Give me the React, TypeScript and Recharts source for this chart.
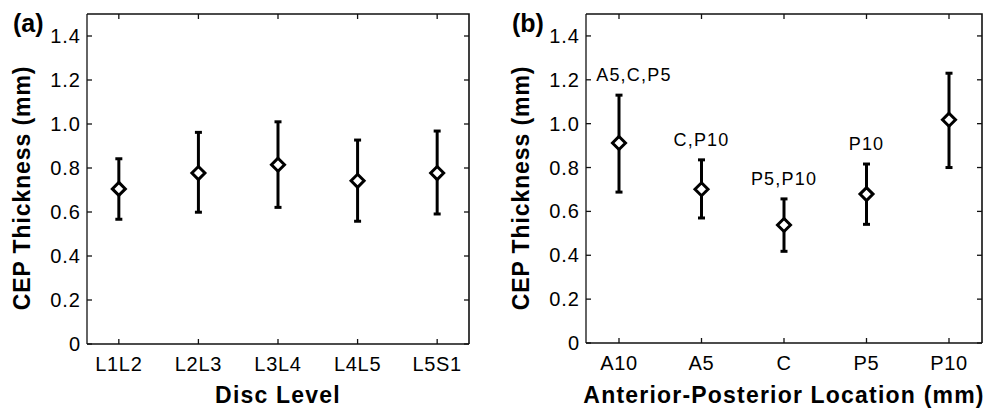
import { ComposedChart, Scatter, XAxis, YAxis, ErrorBar } from "recharts";

// panel (a): CEP thickness by disc level
const discLevels = ["L1L2", "L2L3", "L3L4", "L4L5", "L5S1"];
const discMean = [0.705, 0.777, 0.815, 0.742, 0.777];
const discLower = [0.567, 0.599, 0.621, 0.558, 0.591];
const discUpper = [0.842, 0.962, 1.01, 0.927, 0.968];

// panel (b): CEP thickness by anterior-posterior location
const apLocations = ["A10", "A5", "C", "P5", "P10"];
const apMean = [0.912, 0.701, 0.538, 0.679, 1.018];
const apLower = [0.688, 0.57, 0.418, 0.541, 0.8];
const apUpper = [1.13, 0.835, 0.657, 0.816, 1.23];
const apNotes = ["A5,C,P5", "C,P10", "P5,P10", "P10", ""];

const yTicks = [0, 0.2, 0.4, 0.6, 0.8, 1.0, 1.2, 1.4];
const xTicks = [1, 2, 3, 4, 5];

const FONT = "'Liberation Sans', Arial, Helvetica, sans-serif";
const AXIS = "#111";

type Row = {
  x: number;
  mean: number;
  upper: number;
  err: [number, number];
  note: string;
};

function buildRows(mean: number[], lower: number[], upper: number[], notes?: string[]): Row[] {
  return mean.map((m, i) => ({
    x: i + 1,
    mean: m,
    upper: upper[i],
    err: [m - lower[i], upper[i] - m],
    note: notes ? notes[i] : "",
  }));
}

const discRows = buildRows(discMean, discLower, discUpper);
const apRows = buildRows(apMean, apLower, apUpper, apNotes);

function Diamond(props: any) {
  const { cx, cy } = props;
  if (cx == null || cy == null) return <g />;
  const r = 6.5;
  return (
    <polygon
      points={`${cx},${cy - r} ${cx + r},${cy} ${cx},${cy + r} ${cx - r},${cy}`}
      fill="#fff"
      stroke="#000"
      strokeWidth={3}
      strokeLinejoin="miter"
    />
  );
}

type PanelProps = {
  letter: string;
  labels: string[];
  rows: Row[];
  title: string;
  width: number;
  left: number;
  plotLeft: number;
  plotRight: number;
  plotBottom: number;
};

function Panel({ letter, labels, rows, title, width, left, plotLeft, plotRight, plotBottom }: PanelProps) {
  const height = 409;
  const top = 14;
  const bottomH = height - plotBottom;
  const rightM = width - plotRight;
  const plotH = plotBottom - top;
  const plotW = plotRight - plotLeft;

  // bottom ticks: inward mark, mirrored mark on the top edge, label below
  const bottomTick = (p: any) => {
    const { x, y, payload } = p;
    return (
      <g>
        <line x1={x} y1={y} x2={x} y2={y - 5} stroke={AXIS} strokeWidth={1.3} />
        <line x1={x} y1={y - plotH} x2={x} y2={y - plotH + 5} stroke={AXIS} strokeWidth={1.3} />
        <text x={x} y={y + 27} textAnchor="middle" style={{ fontSize: 20, letterSpacing: 0.7, fontFamily: FONT }} fill="#000">
          {labels[payload.value - 1]}
        </text>
      </g>
    );
  };
  // left ticks: inward mark, mirrored mark on the right edge, label left
  const leftTick = (p: any) => {
    const { x, y, payload } = p;
    return (
      <g>
        <line x1={x} y1={y} x2={x + 5} y2={y} stroke={AXIS} strokeWidth={1.3} />
        <line x1={x + plotW} y1={y} x2={x + plotW - 5} y2={y} stroke={AXIS} strokeWidth={1.3} />
        <text x={x - 6} y={y + 7} textAnchor="end" style={{ fontSize: 20, letterSpacing: 1, fontFamily: FONT }} fill="#000">
          {payload.value === 0 ? "0" : payload.value.toFixed(1)}
        </text>
      </g>
    );
  };

  const noteShape = (p: any) => {
    const { cx, cy, payload } = p;
    if (!payload || !payload.note) return <g />;
    const half = payload.note.length * 5.7;
    const tx = Math.max(cx, plotLeft + 8 + half);
    return (
      <text x={tx} y={cy - 14} textAnchor="middle" style={{ fontSize: 18, letterSpacing: 1.2, fontFamily: FONT }} fill="#000">
        {payload.note}
      </text>
    );
  };

  return (
    <div style={{ position: "absolute", left, top: 0, width, height }}>
      <ComposedChart
        width={width}
        height={height}
        data={rows}
        margin={{ top, right: rightM, bottom: 0, left: 0 }}
      >
        <XAxis
          type="number"
          dataKey="x"
          domain={[0.6, 5.4]}
          ticks={xTicks}
          allowDataOverflow
          height={bottomH}
          tickSize={0}
          tickMargin={0}
          tickLine={false}
          axisLine={{ stroke: AXIS, strokeWidth: 1.3 }}
          tick={bottomTick}
          interval={0}
        />
        <YAxis
          type="number"
          domain={[0, 1.5]}
          ticks={yTicks}
          allowDataOverflow
          width={plotLeft}
          tickSize={0}
          tickMargin={0}
          tickLine={false}
          axisLine={{ stroke: AXIS, strokeWidth: 1.3 }}
          tick={leftTick}
          interval={0}
        />
        <Scatter dataKey="mean" shape={() => <g />} isAnimationActive={false}>
          <ErrorBar dataKey="err" direction="y" width={3.5} strokeWidth={3} stroke="#000" isAnimationActive={false} />
        </Scatter>
        <Scatter dataKey="mean" shape={Diamond} isAnimationActive={false} />
        <Scatter dataKey="upper" shape={noteShape} isAnimationActive={false} />
      </ComposedChart>
      <svg
        width={width}
        height={height}
        style={{ position: "absolute", left: 0, top: 0, pointerEvents: "none", overflow: "visible" }}
      >
        {/* top and right edges of the axes box */}
        <path
          d={`M${plotLeft},${top}H${plotRight}V${plotBottom}`}
          fill="none"
          stroke={AXIS}
          strokeWidth={1.6}
        />
        <text x={plotLeft - 74} y={32} style={{ fontSize: 25, fontWeight: "bold", fontFamily: FONT }} fill="#000">
          {letter}
        </text>
        <text
          transform={`translate(${plotLeft - 57}, 188) rotate(-90)`}
          textAnchor="middle"
          style={{ fontSize: 23, fontWeight: "bold", letterSpacing: 0.9, fontFamily: FONT }}
          fill="#000"
        >
          CEP Thickness (mm)
        </text>
        <text
          x={(plotLeft + plotRight) / 2}
          y={403}
          textAnchor="middle"
          style={{ fontSize: 23, fontWeight: "bold", letterSpacing: 1.2, fontFamily: FONT }}
          fill="#000"
        >
          {title}
        </text>
      </svg>
    </div>
  );
}

export default function App() {
  return (
    <div style={{ position: "absolute", left: 0, top: 0, width: 990, height: 409, background: "#fff" }}>
      <Panel
        letter="(a)"
        labels={discLevels}
        rows={discRows}
        title="Disc Level"
        width={490}
        left={0}
        plotLeft={87}
        plotRight={469}
        plotBottom={344}
      />
      <Panel
        letter="(b)"
        labels={apLocations}
        rows={apRows}
        title="Anterior-Posterior Location (mm)"
        width={500}
        left={490}
        plotLeft={96}
        plotRight={492}
        plotBottom={343}
      />
    </div>
  );
}
